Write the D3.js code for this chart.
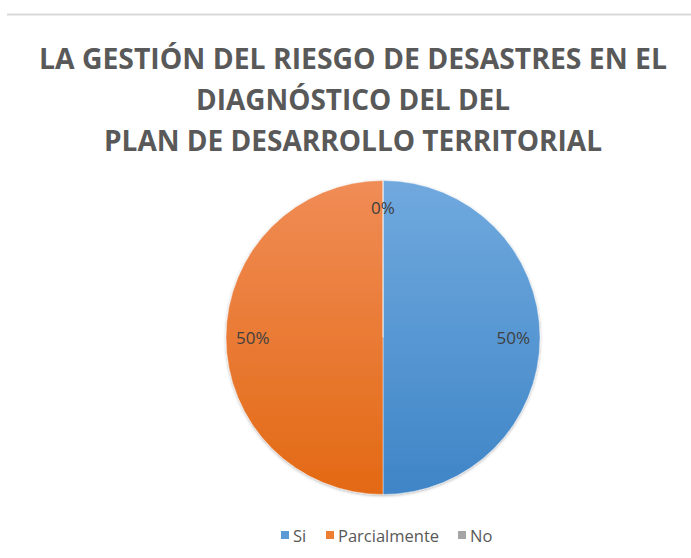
<!DOCTYPE html>
<html><head><meta charset="utf-8">
<script src="https://cdn.jsdelivr.net/npm/d3@7"></script>
<style>body{margin:0;background:#fff}svg{display:block}</style>
</head><body>
<script>
const titleLines = ["LA GESTIÓN DEL RIESGO DE DESASTRES EN EL", "DIAGNÓSTICO DEL DEL", "PLAN DE DESARROLLO TERRITORIAL"];
const categories = ["Si", "Parcialmente", "No"];
const values = [50, 50, 0];
const labels = ["50%", "50%", "0%"];
const colorsTop = ["#70a9de", "#f08c56", "#b0b0b0"];
const colorsBottom = ["#3f85c7", "#e36914", "#8a8a8a"];
const legendColors = ["#5b9bd5", "#ed7d31", "#a5a5a5"];

const W = 691, H = 558;
const svg = d3.select("body").append("svg").attr("width", W).attr("height", H);

svg.append("line").attr("x1", 7).attr("x2", W).attr("y1", 14.5).attr("y2", 14.5)
  .attr("stroke", "#d9d9d9").attr("stroke-width", 2);

const titleWidths = [628, 314, 498];
const tg = svg.append("g");
titleLines.forEach((t, i) => {
  tg.append("text").attr("x", 353).attr("y", 69 + i * 41)
    .attr("text-anchor", "middle")
    .attr("font-family", "'Open Sans', sans-serif").attr("font-weight", 700)
    .attr("font-size", 29).attr("fill", "#595959")
    .attr("textLength", titleWidths[i]).attr("lengthAdjust", "spacingAndGlyphs")
    .text(t);
});

const cx = 383, cy = 337.5, r = 157;
const defs = svg.append("defs");
categories.forEach((c, i) => {
  const g = defs.append("linearGradient").attr("id", "g" + i)
    .attr("gradientUnits", "userSpaceOnUse")
    .attr("x1", 0).attr("y1", -r).attr("x2", 0).attr("y2", r);
  g.append("stop").attr("offset", "0%").attr("stop-color", colorsTop[i]);
  g.append("stop").attr("offset", "100%").attr("stop-color", colorsBottom[i]);
});
const f = defs.append("filter").attr("id", "sh").attr("x", "-10%").attr("y", "-10%").attr("width", "120%").attr("height", "120%");
f.append("feDropShadow").attr("dx", 0).attr("dy", 1).attr("stdDeviation", 1.5).attr("flood-color", "#000").attr("flood-opacity", 0.3);

const pie = d3.pie().sort(null).value(d => d)(values);
const arc = d3.arc().innerRadius(0).outerRadius(r);
const labelArc = d3.arc().innerRadius(r * 0.83).outerRadius(r * 0.83);

const pg = svg.append("g").attr("transform", `translate(${cx},${cy})`);
pg.append("g").attr("filter", "url(#sh)").selectAll("path").data(pie).join("path")
  .attr("d", arc).attr("fill", (d, i) => `url(#g${i})`)
  .attr("stroke", "#fff").attr("stroke-opacity", 0.5).attr("stroke-width", 0.8);

pg.selectAll("text").data(pie).join("text")
  .attr("transform", d => { const [x, y] = labelArc.centroid(d); return `translate(${x},${y})`; })
  .attr("text-anchor", "middle").attr("dominant-baseline", "central")
  .attr("font-family", "'Open Sans', sans-serif").attr("font-size", 17)
  .attr("fill", "#404040")
  .text((d, i) => labels[i]);

// legend
const legendX = [281, 326, 458];
const lg = svg.append("g");
categories.forEach((c, i) => {
  lg.append("rect").attr("x", legendX[i]).attr("y", 531).attr("width", 8).attr("height", 8).attr("fill", legendColors[i]);
  lg.append("text").attr("x", legendX[i] + 12).attr("y", 535).attr("dominant-baseline", "central")
    .attr("font-family", "'Open Sans', sans-serif").attr("font-size", 16.5).attr("fill", "#595959")
    .text(c);
});
</script>
</body></html>
